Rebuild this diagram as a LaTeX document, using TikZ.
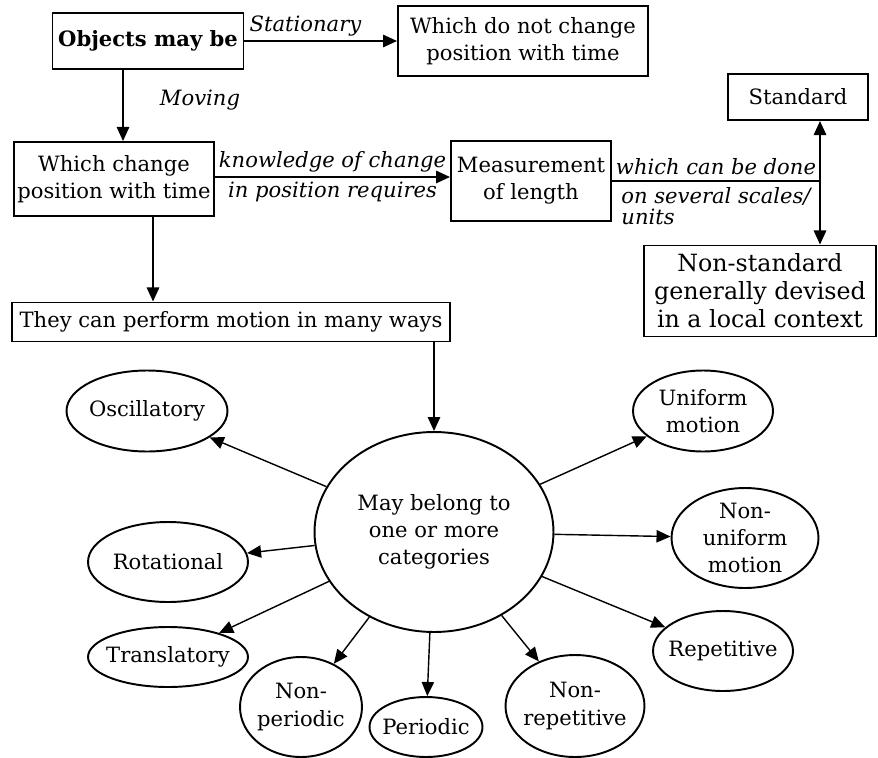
\documentclass[tikz,border=0pt]{standalone}
\usepackage{fontspec}
\setmainfont{DejaVu Serif}
\usetikzlibrary{arrows.meta,shapes.geometric}

\begin{document}
\begin{tikzpicture}[
        x=0.02cm, y=-0.02cm,
        font=\fontsize{12}{15.5}\selectfont,
        >={Triangle[length=8pt,width=7pt]},
    ]

    \tikzstyle{box} = [rectangle, draw=black, line width=1.1pt, align=center, inner sep=2pt];
    \tikzstyle{oval} = [ellipse, draw=black, line width=1.1pt, align=center, inner xsep=-5pt, inner ysep=-2pt];
    \tikzstyle{lbl} = [font=\fontsize{12}{15.5}\selectfont\itshape, inner sep=2pt];
    \tikzstyle{link} = [->, line width=1.2pt];
    \tikzstyle{spoke} = [->, line width=0.8pt];

    \useasboundingbox (0,0) rectangle (878,757);

    % Boxes
    \node[box, minimum width=3.82cm, minimum height=1.12cm] (objects) at (148,41) {\bfseries Objects may be};
    \node[box, minimum width=5cm, minimum height=1.4cm] (stationary) at (523,41) {Which do not change\\position with time};
    \node[box, minimum width=4cm, minimum height=1.48cm] (change) at (114,179) {Which change\\position with time};
    \node[box, minimum width=3.2cm, minimum height=1.6cm] (measure) at (531,181) {Measurement\\of length};
    \node[box, minimum width=2.8cm, minimum height=0.92cm] (standard) at (798,97) {Standard};
    \node[box, minimum width=4.64cm, minimum height=1.82cm, font=\fontsize{13.5}{16}\selectfont] (nonstd) at (760,291) {Non-standard\\generally devised\\in a local context};
    \node[box, minimum width=8.76cm, minimum height=0.78cm] (ways) at (231,322) {They can perform motion in many ways};

    % Ovals
    \node[oval, minimum width=4.78cm, minimum height=4cm] (categories) at (434,532) {May belong to\\one or more\\categories};
    \node[oval, minimum width=3.22cm, minimum height=1.62cm] (oscillatory) at (147,411) {Oscillatory};
    \node[oval, minimum width=3.2cm, minimum height=1.6cm] (rotational) at (168,562) {Rotational};
    \node[oval, minimum width=3.2cm, minimum height=1.2cm] (translatory) at (168,657) {Translatory};
    \node[oval, minimum width=2.44cm, minimum height=2cm] (nonperiodic) at (301,707) {Non-\\periodic};
    \node[oval, minimum width=2.26cm, minimum height=1.2cm] (periodic) at (426,727) {Periodic};
    \node[oval, minimum width=2.78cm, minimum height=2.04cm] (nonrepetitive) at (575,706) {Non-\\repetitive};
    \node[oval, minimum width=2.8cm, minimum height=1.6cm] (repetitive) at (723,651) {Repetitive};
    \node[oval, minimum width=2.94cm, minimum height=2cm] (nonuniform) at (745,538) {Non-\\uniform\\motion};
    \node[oval, minimum width=2.8cm, minimum height=1.62cm] (uniform) at (703,411) {Uniform\\motion};

    % Arrows
    \coordinate (moving) at (123,69);
    \coordinate (down) at (153,216);
    \coordinate (join) at (820,181);
    \draw[link] (objects.east) -- (objects.east -| stationary.west) node[lbl, pos=0.4, above=0pt] {Stationary};
    \draw[link] (moving) -- (moving |- change.north);
    \node[lbl] (movinglbl) at (200,100) {Moving};
    \draw[link] (change.east |- 0,177) -- (measure.west |- 0,177)
        node[lbl, midway, above] {knowledge of change}
        node[lbl, midway, below] {in position requires};
    \draw[line width=1.2pt] (measure.east) -- (join)
        node[lbl, midway, above=1pt] {which can be done}
        node[lbl, midway, below=1pt, align=left, font=\fontsize{12}{12}\selectfont\itshape] {on several scales/\\units};
    \draw[link] (join) -- (join |- standard.south);
    \draw[link] (join) -- (join |- nonstd.north);
    \draw[link] (down) -- (down |- ways.north);
    \draw[link] (ways.south -| categories.north) -- (categories.north);

    % Spokes
    \foreach \kind in {oscillatory, rotational, translatory, nonperiodic, periodic,
                       nonrepetitive, repetitive, nonuniform, uniform}
        \draw[spoke] (categories) -- (\kind);

\end{tikzpicture}
\end{document}
